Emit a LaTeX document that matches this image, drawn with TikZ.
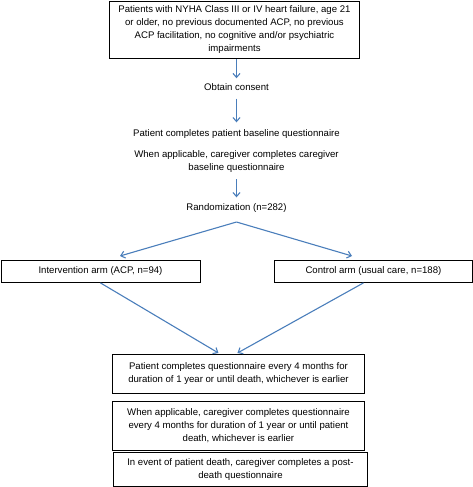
\documentclass[tikz,border=0pt]{standalone}
\usepackage{fontspec}
\setmainfont{Liberation Sans}
\usetikzlibrary{arrows.meta,calc}
\definecolor{arrowblue}{HTML}{4A7EBB}
\begin{document}
\begin{tikzpicture}[x=1pt,y=-1pt,
  txt/.style={font=\fontsize{9.6}{13}\selectfont, align=center, inner sep=0pt},
  box/.style={txt, draw=black, line width=0.9pt, anchor=north west},
  arr/.style={draw=arrowblue, line width=1.1pt, -{Straight Barb[length=4pt,width=7pt]}}
]
\useasboundingbox (0,0) rectangle (473,487);
% top box
\node[box, minimum width=250pt, minimum height=57pt] (top) at (109,1)
  {Patients with NYHA Class III or IV heart failure, age 21\\or older, no previous documented ACP, no previous\\ACP facilitation, no cognitive and/or psychiatric\\impairments};
\node[txt] (consent) at (236.5,87) {Obtain consent};
\node[txt] (base) at (236.5,134) {Patient completes patient baseline questionnaire};
\node[txt] (cg) at (236.5,162) {When applicable, caregiver completes caregiver\\baseline questionnaire};
\node[txt] (rand) at (236.5,208) {Randomization (n=282)};
\coordinate (apex) at (236.5,222);
\node[box, minimum width=199pt, minimum height=22pt] (left) at (0.5,260) {Intervention arm (ACP, n=94)};
\node[box, minimum width=198pt, minimum height=22pt] (right) at (274,260) {Control arm (usual care, n=188)};
\coordinate (ltip) at (120,256);
\coordinate (rtip) at (352,256);
\node[box, minimum width=252pt, minimum height=39pt] (b4) at (112,354)
  {Patient completes questionnaire every 4 months for\\duration of 1 year or until death, whichever is earlier};
\node[box, minimum width=252pt, minimum height=49pt] (b5) at (112,401)
  {When applicable, caregiver completes questionnaire\\every 4 months for duration of 1 year or until patient\\death, whichever is earlier};
\node[box, minimum width=254pt, minimum height=34pt] (b6) at (113,452)
  {In event of patient death, caregiver completes a post-\\death questionnaire};
% connectors
\draw[arr] (top.south -| consent) -- ($(consent.north)+(0,-5)$);
\draw[arr, shorten <=8pt] (consent.south) -- ($(base.north)+(0,-7)$);
\draw[arr, shorten <=6pt] (cg.south) -- ($(rand.north)+(0,-6)$);
\draw[arr] (apex) -- (ltip);
\draw[arr] (apex) -- (rtip);
\draw[arr] (left.south) -- ($(b4.north)+(-20,-1)$);
\draw[arr] ($(right.south)+(-10,0)$) -- ($(b4.north)+(-1,-1)$);
\end{tikzpicture}
\end{document}
